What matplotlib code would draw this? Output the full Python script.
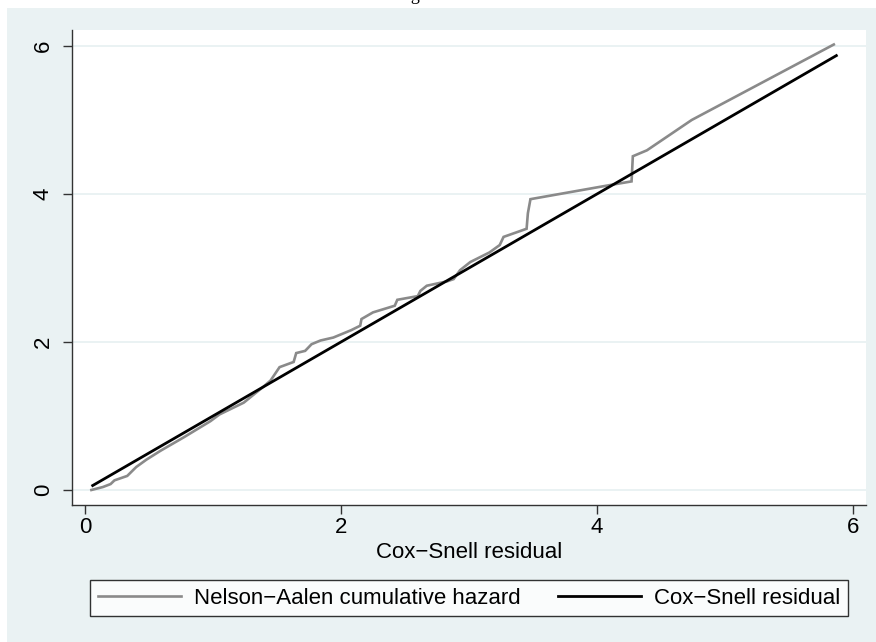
import matplotlib
matplotlib.use("Agg")
import matplotlib.pyplot as plt
from matplotlib.patches import Rectangle

plt.rcParams['font.family'] = ['Liberation Sans', 'DejaVu Sans']

# Nelson-Aalen cumulative hazard (step-like)
na_x = [0.05, 0.14, 0.20, 0.23, 0.33, 0.40, 0.48, 0.59, 0.77, 0.98, 1.05, 1.24, 1.39,
        1.45, 1.52, 1.63, 1.65, 1.72, 1.77, 1.84, 1.94, 2.08, 2.15, 2.16, 2.25, 2.42,
        2.44, 2.60, 2.62, 2.67, 2.83, 2.88, 2.93, 3.01, 3.16, 3.24, 3.27, 3.45, 3.46,
        3.48, 4.10, 4.27, 4.28, 4.39, 4.74, 5.85]
na_y = [0.00, 0.04, 0.08, 0.13, 0.19, 0.31, 0.41, 0.53, 0.71, 0.93, 1.02, 1.18, 1.39,
        1.48, 1.66, 1.73, 1.85, 1.88, 1.97, 2.02, 2.06, 2.16, 2.22, 2.31, 2.40, 2.49,
        2.57, 2.62, 2.69, 2.76, 2.82, 2.85, 2.97, 3.08, 3.21, 3.31, 3.42, 3.53, 3.74,
        3.93, 4.12, 4.17, 4.51, 4.59, 5.00, 6.02]

# Cox-Snell residual reference line (y = x)
cs_x = [0.06, 5.87]
cs_y = [0.06, 5.87]

xticks = [0, 2, 4, 6]
yticks = [0, 2, 4, 6]

W, H = 876, 642
fig = plt.figure(figsize=(W / 100, H / 100), dpi=100)
fig.patch.set_facecolor('white')
bg = '#EAF2F3'
fig.patches.append(Rectangle((7 / W, 0), 1 - 7 / W, (H - 8) / H, transform=fig.transFigure,
                             facecolor=bg, edgecolor='none', zorder=-10))

# title that is cut off at the top edge in the reference
fig.text(420 / W, 1 + 0.5 / H, 'Figure', ha='center', va='baseline',
         fontsize=13, family=['Liberation Serif', 'DejaVu Serif'])

ax = fig.add_axes([72 / W, 1 - 505 / H, (866 - 72) / W, (505 - 30) / H])
ax.set_facecolor('white')

ax.plot(na_x, na_y, color='#8A8A8A', lw=1.9, solid_joinstyle='miter',
        label='Nelson\u2212Aalen cumulative hazard', zorder=3)
ax.plot(cs_x, cs_y, color='black', lw=2.0, label='Cox\u2212Snell residual', zorder=4)

ax.set_xlim(-0.1016, 6.1016)
ax.set_ylim(-0.203, 6.216)
ax.set_xticks(xticks)
ax.set_yticks(yticks)
for t in yticks:
    ax.axhline(t, color=bg, lw=1.4, zorder=1)

for s in ['top', 'right']:
    ax.spines[s].set_visible(False)
for s in ['left', 'bottom']:
    ax.spines[s].set_color('#333333')
    ax.spines[s].set_linewidth(1.0)

ax.tick_params(axis='both', direction='out', length=6.2, width=1.0, color='#333333',
               labelsize=16)
ax.tick_params(axis='x', pad=2.5)
ax.tick_params(axis='y', pad=7)
for lab in ax.get_yticklabels():
    lab.set_rotation(90)
    lab.set_va('center')

ax.set_xlabel('Cox\u2212Snell residual', fontsize=16, labelpad=3)

leg = fig.legend(loc='center', ncol=2, mode='expand',
                 bbox_to_anchor=(90 / W, 1 - 619 / H, (848 - 90) / W, 42 / H),
                 fontsize=16, frameon=True, fancybox=False, handlelength=3.75,
                 handletextpad=0.58, borderpad=0.35, borderaxespad=0)
leg.get_frame().set_edgecolor('black')
leg.get_frame().set_linewidth(1.0)
leg.get_frame().set_facecolor('white')

fig.savefig('out.png', dpi=100, facecolor=fig.get_facecolor())
